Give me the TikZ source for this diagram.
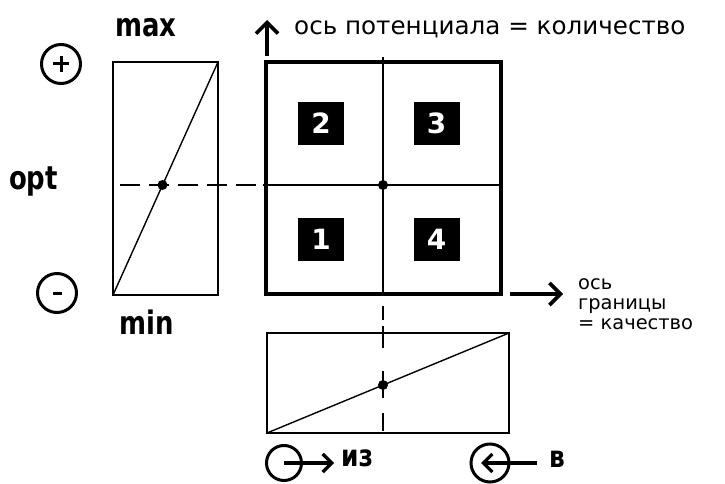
\documentclass[tikz,border=0pt]{standalone}
\usepackage{fontspec}
\setmainfont{DejaVu Sans}
\usetikzlibrary{arrows.meta}
\begin{document}
\begin{tikzpicture}[x=1bp,y=-1bp,
  thinline/.style={line width=1.8bp},
  frame/.style={line width=3.6bp},
  diag/.style={line width=1.4bp},
  hdash/.style={line width=1.8bp, dash pattern=on 20bp off 9bp},
  vdash/.style={line width=1.8bp, dash pattern=on 0bp off 12bp on 14bp off 6bp on 22bp off 23bp on 27bp off 15bp on 18bp off 10bp},
  dotmark/.style={circle, fill=black, inner sep=0, minimum size=10bp},
  numbox/.style={fill=black, text=white, font=\bfseries\fontsize{28}{28}\selectfont, minimum width=46bp, minimum height=43bp, inner sep=0},
  barb/.style={line width=3.6bp, -{Straight Barb[length=11bp,width=22bp]}},
  smallbarb/.style={line width=3.2bp, -{Straight Barb[length=9bp,width=18bp]}},
  sign/.style={circle, draw, line width=3bp, inner sep=0},
  lbl/.style={font=\bfseries\fontsize{26}{26}\selectfont, inner sep=0},
  txt/.style={font=\fontsize{24.7}{24.7}\selectfont, inner sep=0},
  rtxt/.style={font=\fontsize{19.5}{20}\selectfont, inner sep=0, align=left},
]
\useasboundingbox (0,0) rectangle (725,484);

% main square
\coordinate (sqNW) at (266,62);
\coordinate (sqSE) at (501,294);
\coordinate (vtop) at (383,57);
\coordinate (vbot) at (383,294);
\coordinate (hl) at (263,185);
\coordinate (hr) at (503,185);
\draw[frame] (sqNW) rectangle (sqSE);
\draw[thinline] (vtop) -- (vbot);
\draw[thinline] (hl) -- (hr);
\node[dotmark] (c) at (383,185) {};

% number boxes
\node[numbox] (b2) at (321,123.5) {2};
\node[numbox] (b3) at (436.5,123.5) {3};
\node[numbox] (b1) at (321,239.5) {1};
\node[numbox] (b4) at (436.5,239.5) {4};

% left rectangle
\coordinate (lNW) at (113,62);
\coordinate (lSE) at (218,295);
\coordinate (lSW) at (113,295);
\coordinate (lNE) at (218,62);
\draw[thinline] (lNW) rectangle (lSE);
\draw[diag] (lSW) -- (lNE);
\node[dotmark] (lc) at (162.5,185) {};
\coordinate (dl) at (120,185);
\draw[hdash] (dl) -- (hl);

% bottom rectangle
\coordinate (bNW) at (267,333);
\coordinate (bSE) at (509,433);
\coordinate (bSW) at (267,433);
\coordinate (bNE) at (509,333);
\coordinate (bbot) at (383,433);
\draw[thinline] (bNW) rectangle (bSE);
\draw[diag] (bSW) -- (bNE);
\node[dotmark] (bc) at (383,385) {};
\draw[vdash] (vbot) -- (bbot);

% axes arrows and texts
\coordinate (upS) at (267,56);
\coordinate (upE) at (267,20);
\draw[barb] (upS) -- (upE);
\node[txt, anchor=base west] (toptxt) at (294,35) {ось потенциала = количество};

\coordinate (rS) at (510,294);
\coordinate (rE) at (563,294);
\draw[barb] (rS) -- (rE);
\node[rtxt, anchor=base west] (rtxt) at (578,329) {ось\\границы\\= качество};

% labels
\node[lbl, anchor=base west] (max) at (115,37) {\scalebox{1}[1.25]{max}};
\node[lbl, anchor=base west] (opt) at (9,190) {\scalebox{1}[1.25]{opt}};
\node[lbl, anchor=base west] (min) at (119,334) {\scalebox{1}[1.25]{min}};

% plus / minus circles
\node[sign, minimum size=39bp] (plus) at (61,64) {};
\draw[line width=3bp] ([xshift=-8bp]plus.center) -- ([xshift=8bp]plus.center);
\draw[line width=3bp] ([yshift=-8bp]plus.center) -- ([yshift=8bp]plus.center);
\node[sign, minimum size=39bp] (minus) at (57,293) {};
\draw[line width=3bp] ([xshift=-4.5bp]minus.center) -- ([xshift=4.5bp]minus.center);

% bottom: from / into
\node[sign, minimum size=35bp] (from) at (284,463) {};
\coordinate (fromE) at (334,463);
\draw[smallbarb] (from.center) -- (fromE);
\node[lbl, font=\bfseries\fontsize{25}{25}\selectfont, anchor=base west] (iz) at (341,466) {\scalebox{1}[1.2]{из}};

\node[sign, minimum size=38bp] (into) at (490,463) {};
\coordinate (intoS) at (537,463);
\coordinate (intoE) at (481,463);
\draw[smallbarb] (intoS) -- (intoE);
\node[lbl, font=\bfseries\fontsize{25}{25}\selectfont, anchor=base west] (v) at (549,467) {\scalebox{1}[1.2]{в}};
\end{tikzpicture}
\end{document}
